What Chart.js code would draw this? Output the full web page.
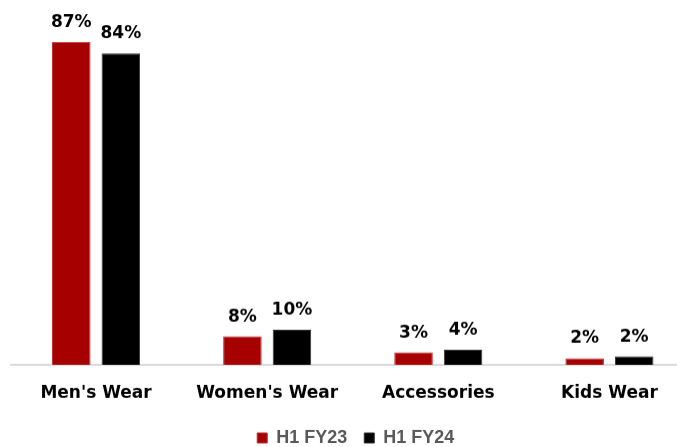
<!DOCTYPE html>
<html>
<head>
<meta charset="utf-8">
<script src="https://cdn.jsdelivr.net/npm/chart.js@4/dist/chart.umd.min.js"></script>
<style>
  html, body { margin: 0; padding: 0; background: #fff; overflow: hidden; }
  #wrap { position: relative; width: 695px; height: 466.5px; }
</style>
</head>
<body>
<div id="wrap"><canvas id="c"></canvas></div>
<script>
const categories = ["Men's Wear", "Women's Wear", "Accessories", "Kids Wear"];
const seriesNames = ["H1 FY23", "H1 FY24"];
const fy23Values = [87, 7.7, 3.4, 1.8];
const fy24Values = [84, 9.5, 4.1, 2.3];
const fy23Labels = ["87%", "8%", "3%", "2%"];
const fy24Labels = ["84%", "10%", "4%", "2%"];

const labelFont = 'bold 17px "DejaVu Sans", sans-serif';

const valueLabels = {
  id: 'valueLabels',
  afterDatasetsDraw(chart) {
    const ctx = chart.ctx;
    ctx.save();
    ctx.font = labelFont;
    ctx.fillStyle = '#000';
    ctx.textAlign = 'center';
    ctx.textBaseline = 'alphabetic';
    chart.data.datasets.forEach((ds, i) => {
      const meta = chart.getDatasetMeta(i);
      meta.data.forEach((el, j) => {
        ctx.fillText(ds.valueLabels[j], el.x, el.y - 15);
      });
    });
    ctx.restore();
  }
};

const shiftLegend = {
  id: 'shiftLegend',
  afterLayout(chart) {
    const lg = chart.legend;
    if (lg) {
      lg.left += 3; lg.right += 3;
      lg.top -= 10.5; lg.bottom -= 10.5;
    }
  }
};

new Chart(document.getElementById('c'), {
  type: 'bar',
  data: {
    labels: categories,
    datasets: [
      { label: seriesNames[0], data: fy23Values, valueLabels: fy23Labels,
        backgroundColor: '#A60000', borderColor: '#B83030', borderWidth: 1,
        categoryPercentage: 0.579, barPercentage: 0.778 },
      { label: seriesNames[1], data: fy24Values, valueLabels: fy24Labels,
        backgroundColor: '#000000', borderColor: '#333333', borderWidth: 1,
        categoryPercentage: 0.579, barPercentage: 0.778 }
    ]
  },
  options: {
    responsive: true,
    maintainAspectRatio: false,
    animation: false,
    layout: { padding: { top: 31, left: 10.5, right: 0, bottom: 0 } },
    scales: {
      x: {
        offset: true,
        grid: { display: false, drawTicks: false },
        border: { display: true, color: '#D9D9D9', width: 2 },
        ticks: { color: '#000', font: { family: '"DejaVu Sans", sans-serif', size: 17, weight: 'bold' }, padding: 18.5 }
      },
      y: {
        display: false,
        min: 0,
        max: 90
      }
    },
    plugins: {
      legend: {
        position: 'bottom',
        labels: {
          boxWidth: 10, boxHeight: 10, padding: 17,
          color: '#595959',
          font: { family: '"Liberation Sans", Arial, sans-serif', size: 18, weight: 'bold' }
        }
      },
      tooltip: { enabled: false }
    }
  },
  plugins: [valueLabels, shiftLegend]
});
</script>
</body>
</html>
